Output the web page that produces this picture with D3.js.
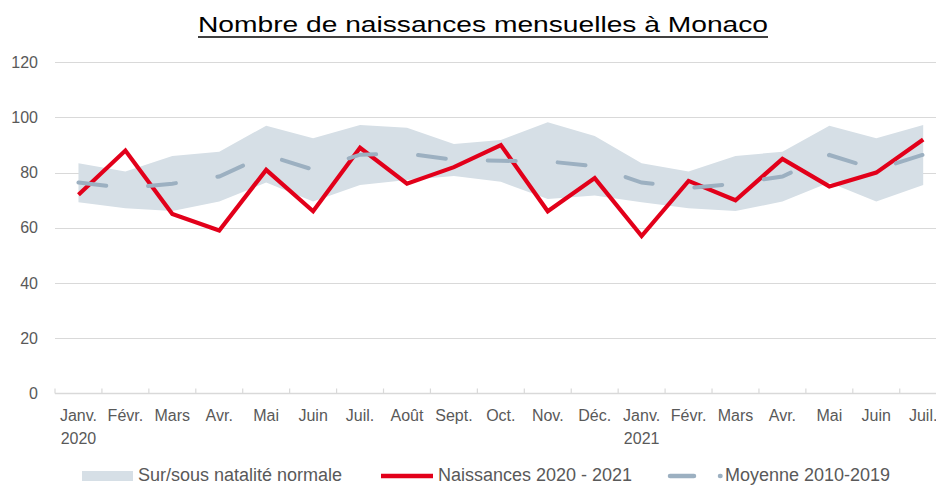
<!DOCTYPE html>
<html lang="fr">
<head>
<meta charset="utf-8">
<script src="https://cdn.jsdelivr.net/npm/d3@7"></script>
<style>
  html, body { margin: 0; padding: 0; background: #fff; overflow: hidden; }
  svg { display: block; font-family: "Liberation Sans", Arial, sans-serif; }
</style>
</head>
<body>
<svg id="chart" width="936" height="485"></svg>
<script>
// Mois affichés (axe des abscisses), avec l'année sous janvier
const months = ["Janv.", "Févr.", "Mars", "Avr.", "Mai", "Juin", "Juil.", "Août", "Sept.", "Oct.", "Nov.", "Déc.",
                "Janv.", "Févr.", "Mars", "Avr.", "Mai", "Juin", "Juil."];
const years = ["2020", "", "", "", "", "", "", "", "", "", "", "", "2021", "", "", "", "", "", ""];

// Naissances mensuelles 2020 - 2021
const births = [72, 88, 65, 59, 81, 66, 89, 76, 82, 90, 66, 78, 57, 77, 70, 85, 75, 80, 92];

// Moyenne mensuelle 2010-2019
const average = [76.4, 74.4, 76.0, 78.6, 86.4, 81.1, 86.5, 86.9, 84.6, 84.3, 84.1, 82.3,
                 76.4, 74.4, 76.0, 78.6, 86.4, 81.1, 86.5];

// Bornes de la natalité normale (bande)
const bandHigh = [83.4, 80.4, 86.0, 87.6, 97.0, 92.5, 97.3, 96.3, 90.4, 91.8, 98.3, 93.3,
                  83.4, 80.4, 86.0, 87.6, 97.0, 92.5, 97.3];
const bandLow = [69.3, 67.1, 66.1, 69.5, 76.4, 69.5, 75.5, 77.3, 78.8, 76.7, 70.4, 71.7,
                 69.3, 67.1, 66.1, 69.5, 76.4, 69.5, 75.5];

const yTicks = [0, 20, 40, 60, 80, 100, 120];

const svg = d3.select("#chart");
const W = 936;
const textColor = "#595959";
const gridColor = "#d9d9d9";
const red = "#e2001a";
const dashColor = "#9cb0c1";
const bandColor = "#d6dfe6";

const idx = d3.range(months.length);
const x = d3.scaleBand().domain(idx).range([55, 55 + 46.93 * months.length]).padding(0);
const cx = i => x(i) + x.bandwidth() / 2;
const y = d3.scaleLinear().domain([0, 120]).range([393.3, 62.3]);

// Titre souligné
svg.append("text")
  .attr("x", 198).attr("y", 31.5)
  .attr("textLength", 570).attr("lengthAdjust", "spacingAndGlyphs")
  .attr("font-size", 21.5).attr("fill", "#000")
  .text("Nombre de naissances mensuelles à Monaco");
svg.append("line")
  .attr("x1", 198).attr("x2", 768).attr("y1", 37).attr("y2", 37)
  .attr("stroke", "#000").attr("stroke-width", 1.6);

// Grille horizontale
svg.append("g").selectAll("line").data(yTicks.filter(d => d > 0)).join("line")
  .attr("x1", 55).attr("x2", W)
  .attr("y1", d => Math.round(y(d)) + 0.5).attr("y2", d => Math.round(y(d)) + 0.5)
  .attr("stroke", gridColor).attr("stroke-width", 1.2);

// Étiquettes de l'axe vertical
svg.append("g").selectAll("text").data(yTicks).join("text")
  .attr("x", 38).attr("y", d => y(d) + 5.6)
  .attr("text-anchor", "end").attr("font-size", 16).attr("fill", textColor)
  .text(d => d);

// Bande de natalité normale
const area = d3.area()
  .x((d, i) => cx(i))
  .y0((d, i) => y(bandLow[i]))
  .y1((d, i) => y(bandHigh[i]));
svg.append("path").datum(idx).attr("d", area).attr("fill", bandColor);

// Axe des abscisses : ligne de base et graduations entre les mois
const axisY = Math.round(y(0)) + 0.5;
svg.append("line").attr("x1", 55).attr("x2", W).attr("y1", axisY).attr("y2", axisY)
  .attr("stroke", gridColor).attr("stroke-width", 1.5);
svg.append("g").selectAll("line").data(d3.range(months.length + 1)).join("line")
  .attr("x1", i => (i < months.length ? x(i) : x(i - 1) + x.bandwidth()))
  .attr("x2", i => (i < months.length ? x(i) : x(i - 1) + x.bandwidth()))
  .attr("y1", axisY - 5).attr("y2", axisY)
  .attr("stroke", gridColor).attr("stroke-width", 1.2);

const xl = svg.append("g").selectAll("text").data(idx).join("text")
  .attr("text-anchor", "middle").attr("font-size", 16).attr("fill", textColor);
xl.append("tspan").attr("x", i => cx(i)).attr("y", 420.5).text(i => months[i]);
xl.append("tspan").attr("x", i => cx(i)).attr("y", 443.5).text(i => years[i]);

// Naissances 2020 - 2021
const line = v => d3.line().x((d, i) => cx(i)).y(d => y(d))(v);
svg.append("path").attr("d", line(births))
  .attr("fill", "none").attr("stroke", red).attr("stroke-width", 4.2)
  .attr("stroke-linejoin", "miter").attr("stroke-linecap", "butt");

// Moyenne 2010-2019 (tirets)
svg.append("path").attr("d", line(average))
  .attr("fill", "none").attr("stroke", dashColor).attr("stroke-width", 4)
  .attr("stroke-linecap", "round").attr("stroke-dasharray", "28 42");

// Légende
const lg = svg.append("g");
lg.append("rect").attr("x", 82).attr("y", 471).attr("width", 51).attr("height", 10).attr("fill", bandColor);
lg.append("text").attr("x", 138).attr("y", 481).attr("font-size", 18).attr("fill", textColor)
  .text("Sur/sous natalité normale");
lg.append("line").attr("x1", 381).attr("x2", 433).attr("y1", 476).attr("y2", 476)
  .attr("stroke", red).attr("stroke-width", 4.5);
lg.append("text").attr("x", 438).attr("y", 481).attr("font-size", 18).attr("fill", textColor)
  .text("Naissances 2020 - 2021");
lg.append("line").attr("x1", 670).attr("x2", 720.5).attr("y1", 476).attr("y2", 476)
  .attr("stroke", dashColor).attr("stroke-width", 4.5).attr("stroke-linecap", "round")
  .attr("stroke-dasharray", "24 26");
lg.append("text").attr("x", 725).attr("y", 481).attr("font-size", 18).attr("fill", textColor)
  .text("Moyenne 2010-2019");
</script>
</body>
</html>
